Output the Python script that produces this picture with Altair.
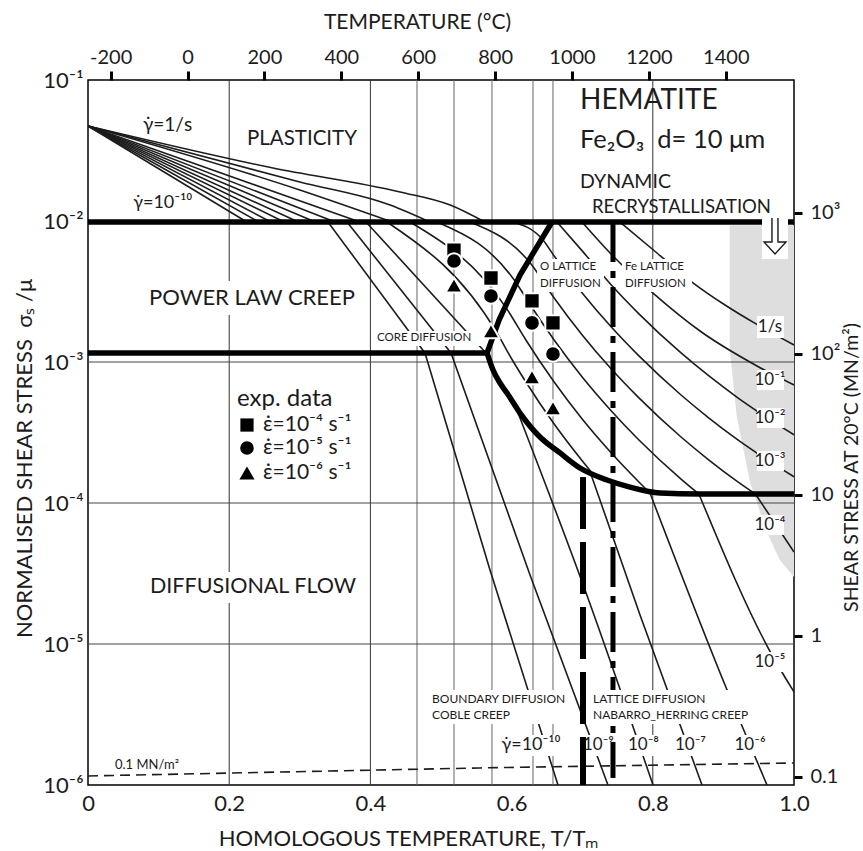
import altair as alt
import pandas as pd

FONT = "Lato"
INK = "#1c1c1c"
NB = "\u00a0"

# ---------------- values read from the map ----------------
# x = homologous temperature T/Tm ; e = log10(sigma_s / mu)

# Plasticity contours (1/s, 1e-1 ... 1e-10 s^-1), fanning from T = 0
fan_x = [
    [0, 0.262, 0.442, 0.513, 0.562],
    [0, 0.300, 0.428, 0.484],
    [0, 0.300, 0.431],
    [0, 0.385], [0, 0.350], [0, 0.322], [0, 0.298],
    [0, 0.278], [0, 0.259], [0, 0.242], [0, 0.225],
]
fan_e = [
    [-1.326, -1.624, -1.794, -1.887, -2.007],
    [-1.326, -1.723, -1.887, -2.007],
    [-1.326, -1.780, -2.007],
    [-1.326, -2.007], [-1.326, -2.007], [-1.326, -2.007], [-1.326, -2.007],
    [-1.326, -2.007], [-1.326, -2.007], [-1.326, -2.007], [-1.326, -2.007],
]

# Power-law creep contours (core diffusion + lattice diffusion fields)
plc_x = [
    [0.7535, 0.8059, 0.8555, 0.9023, 0.9462, 1.0],
    [0.6997, 0.7422, 0.8003, 0.8669, 0.9476, 1.0],
    [0.6643, 0.70, 0.74, 0.78, 0.84, 0.88, 0.92, 0.96, 1.0],
    [0.6020, 0.6445, 0.66, 0.70, 0.74, 0.78, 0.84, 0.88, 0.92, 0.96, 1.0],
    [0.5411, 0.6275, 0.66, 0.70, 0.74, 0.78, 0.84, 0.88, 0.92, 0.9454],
    [0.4943, 0.6111, 0.62, 0.66, 0.70, 0.74, 0.78, 0.84, 0.8653],
    [0.4561, 0.5949, 0.62, 0.66, 0.70, 0.74, 0.78, 0.796],
    [0.4235, 0.5793, 0.60, 0.62, 0.66, 0.70, 0.715],
    [0.3938, 0.5637],
    [0.3669, 0.5142],
    [0.3399, 0.4773],
]
plc_e = [
    [-2.007, -2.227, -2.433, -2.596, -2.730, -2.879],
    [-2.007, -2.241, -2.511, -2.780, -3.028, -3.163],
    [-2.007, -2.212, -2.447, -2.657, -2.936, -3.101, -3.252, -3.389, -3.516],
    [-2.007, -2.135, -2.246, -2.510, -2.745, -2.955, -3.234, -3.399, -3.550, -3.687, -3.814],
    [-2.007, -2.305, -2.544, -2.808, -3.043, -3.253, -3.532, -3.697, -3.848, -3.936],
    [-2.007, -2.473, -2.544, -2.842, -3.106, -3.340, -3.551, -3.830, -3.936],
    [-2.007, -2.636, -2.842, -3.140, -3.404, -3.638, -3.849, -3.929],
    [-2.007, -2.794, -2.977, -3.140, -3.438, -3.701, -3.794],
    [-2.007, -2.936],
    [-2.007, -2.936],
    [-2.007, -2.936],
]

# Diffusional flow contours (1e-4 ... 1e-10 s^-1)
dif_x = [
    [0.9454, 1.0],
    [0.8653, 0.9688, 1.0],
    [0.796, 0.9023, 0.9618],
    [0.712, 0.7819, 0.8697],
    [0.6048, 0.7040, 0.8003],
    [0.5142, 0.6261, 0.7365],
    [0.4773, 0.5694, 0.6657],
]
dif_e = [
    [-3.936, -4.348],
    [-3.936, -5.078, -5.340],
    [-3.929, -5.291, -6.0],
    [-3.790, -4.794, -6.0],
    [-3.305, -4.617, -6.0],
    [-2.936, -4.511, -6.0],
    [-2.936, -4.475, -6.0],
]

# Field boundaries
top_bound_x = [[0, 0.9547], [0.9915, 1.0]]
top_bound_e = -2.007
mid_bound_x = [0, 0.5652]
mid_bound_e = -2.936
diag_x = [0.5652, 0.5822, 0.6119, 0.6572]
diag_e = [-2.936, -2.702, -2.383, -2.007]
curve_x = [0.5652, 0.5737, 0.5836, 0.5935, 0.6119, 0.6402, 0.6686, 0.6969, 0.7351, 0.7677, 0.8102, 0.8669, 1.0]
curve_e = [-2.936, -3.057, -3.149, -3.220, -3.362, -3.532, -3.645, -3.752, -3.837, -3.887, -3.929, -3.936, -3.936]
coble_nh = {"x": 0.7011, "e": [-3.816, -6.0]}
o_fe = {"x": 0.7436, "e": [-2.007, -5.95]}

# 0.1 MN/m^2 line
mn01_x = [0, 0.5552, 1.0]
mn01_e = [-5.936, -5.879, -5.844]

# Grey field (dynamic recrystallisation)
gray_e = [-2.03, -2.915, -3.390, -3.858, -4.213, -4.404, -4.525]
gray_x = [0.909, 0.909, 0.919, 0.938, 0.962, 0.980, 1.0]

# Arrow (down) inside white box
arrow_box_x = [0.9547, 0.9915]
arrow_box_e = [-2.27, -1.97]
arrow_x = [0.9688, 0.9688, 0.9575, 0.9731, 0.9887, 0.9773, 0.9773]
arrow_e = [-1.979, -2.149, -2.149, -2.234, -2.149, -2.149, -1.979]

# White label boxes (x0, x1, e0, e1)
box_x0 = [0.0822, 0.0850, 0.4065, 0.6360, 0.7564, 0.4830, 0.7110,
          0.9476, 0.9476, 0.9476, 0.9476, 0.9476, 0.9476,
          0.5836, 0.7068, 0.7677, 0.8343, 0.9164]
box_x1 = [0.3824, 0.3824, 0.5581, 0.7309, 0.8555, 0.6841, 0.9547,
          0.9858, 0.9858, 0.9858, 0.9858, 0.9858, 0.9858,
          0.6714, 0.7394, 0.8059, 0.8725, 0.9589]
box_e0 = [-2.426, -4.489, -2.780, -2.270, -2.270, -5.326, -5.326,
          -2.674, -3.057, -3.326, -3.631, -4.085, -5.057,
          -5.645, -5.645, -5.645, -5.645, -5.645]
box_e1 = [-2.667, -4.709, -2.887, -2.504, -2.504, -5.567, -5.567,
          -2.830, -3.199, -3.468, -3.773, -4.227, -5.199,
          -5.794, -5.794, -5.794, -5.794, -5.794]

# Grid
grid_main_x = [0.2, 0.4, 0.8]
grid_exp_x = [0.4660, 0.5184, 0.5722, 0.6303, 0.6586]
grid_e = [-3, -4, -5]

# Experimental data
exp_x = [0.5184, 0.5708, 0.6289, 0.6586]
sq_e = [-2.206, -2.404, -2.567, -2.723]
ci_e = [-2.284, -2.532, -2.723, -2.943]
tr_e = [-2.454, -2.780, -3.106, -3.326]

# Legend symbols
leg_x = 0.2252
leg_e = [-3.447, -3.610, -3.787]

# Axes
x_ticks = [0, 0.2, 0.4, 0.6, 0.8, 1.0]
y_ticks = [1e-6, 1e-5, 1e-4, 1e-3, 1e-2, 1e-1]
t_ticks = [-200, 0, 200, 400, 600, 800, 1000, 1200, 1400]
t_at_frame = [-258.8, 1577.4]
mn_ticks = [0.1, 1, 10, 100, 1000]
mn_at_frame = [0.0877, 8770]

G = "\u03b3\u0307"
E = "\u03b5\u0307"
M = "\u207b"
# Labels: text, x, e, size
center_labels = [
    ("PLASTICITY", 0.3031, -1.418, 20.5),
    ("POWER LAW CREEP", 0.2323, -2.546, 22),
    ("DIFFUSIONAL FLOW", 0.2337, -4.596, 21.5),
    ("1/s", 0.966, -2.752, 17),
    ("10" + M + "\u00b9", 0.966, -3.128, 17),
    ("10" + M + "\u00b2", 0.966, -3.397, 17),
    ("10" + M + "\u00b3", 0.966, -3.702, 17),
    ("10" + M + "\u2074", 0.966, -4.156, 17),
    ("10" + M + "\u2075", 0.966, -5.128, 17),
    (G + "=10" + M + "\u00b9\u2070", 0.6275, -5.716, 18),
    ("10" + M + "\u2079", 0.7230, -5.716, 17),
    ("10" + M + "\u2078", 0.7868, -5.716, 17),
    ("10" + M + "\u2077", 0.8534, -5.716, 17),
    ("10" + M + "\u2076", 0.9377, -5.716, 17),
]
left_labels = [
    ("HEMATITE", 0.6969, -1.149, 28),
    ("Fe\u2082O\u2083" + NB + NB + "d=" + NB + "10" + NB + "\u03bcm", 0.6969, -1.426, 25.5),
    ("DYNAMIC", 0.6969, -1.723, 19.5),
    ("RECRYSTALLISATION", 0.7139, -1.901, 18.5),
    ("O LATTICE", 0.6402, -2.326, 11.5),
    ("DIFFUSION", 0.6402, -2.447, 11.5),
    ("Fe LATTICE", 0.7606, -2.326, 11.5),
    ("DIFFUSION", 0.7606, -2.447, 11.5),
    ("CORE DIFFUSION", 0.4093, -2.830, 11.5),
    ("BOUNDARY DIFFUSION", 0.4873, -5.390, 12),
    ("COBLE CREEP", 0.4873, -5.504, 12),
    ("LATTICE DIFFUSION", 0.7153, -5.390, 12),
    ("NABARRO_HERRING CREEP", 0.7153, -5.504, 12),
    (G + "=1/s", 0.0779, -1.319, 19),
    (G + "=10" + M + "\u00b9\u2070", 0.0640, -1.870, 18),
    ("0.1 MN/m\u00b2", 0.0382, -5.858, 13),
    ("exp. data", 0.2110, -3.262, 24),
    (E + "=10" + M + "\u2074 s" + M + "\u00b9", 0.2479, -3.447, 21),
    (E + "=10" + M + "\u2075 s" + M + "\u00b9", 0.2479, -3.610, 21),
    (E + "=10" + M + "\u2076 s" + M + "\u00b9", 0.2479, -3.787, 21),
]

# ---------------- build tables ----------------
def seg_df(xs_list, es_list, prefix):
    rows = []
    for k, (xs, es) in enumerate(zip(xs_list, es_list)):
        for i, (x, e) in enumerate(zip(xs, es)):
            rows.append({"seg": f"{prefix}{k}", "i": i, "x": x, "y": 10 ** e})
    return pd.DataFrame(rows)


def XS():
    return alt.Scale(domain=[0, 1], nice=False, zero=False)


def YS():
    return alt.Scale(type="log", domain=[1e-6, 1e-1], nice=False)


def X(f="x"):
    return alt.X(f"{f}:Q", scale=XS(), axis=None)


def Y(f="y"):
    return alt.Y(f"{f}:Q", scale=YS(), axis=None)


layers = []

# axis carrier: bottom + left
left_expr = ("datum.value >= 0.09 ? '10\u207b\u00b9' : datum.value >= 0.009 ? '10\u207b\u00b2' : "
             "datum.value >= 0.0009 ? '10\u207b\u00b3' : datum.value >= 0.00009 ? '10\u207b\u2074' : "
             "datum.value >= 0.000009 ? '10\u207b\u2075' : '10\u207b\u2076'")
axis_layer = alt.Chart(pd.DataFrame({"x": [0.5], "y": [1e-3]})).mark_point(opacity=0).encode(
    x=alt.X("x:Q", scale=XS(), axis=alt.Axis(
        orient="bottom", values=x_ticks,
        labelExpr="datum.value == 0 ? '0' : format(datum.value, '.1f')",
        ticks=False, domain=False, grid=False, labelFontSize=22, labelPadding=8, labelFlush=False,
        title="HOMOLOGOUS TEMPERATURE, T/T\u2098", titleFontSize=22,
        titleX=320, titleY=53, titleBaseline="middle", titleAlign="center")),
    y=alt.Y("y:Q", scale=YS(), axis=alt.Axis(
        orient="left", values=y_ticks, labelExpr=left_expr, ticks=False, domain=False, grid=False,
        labelFontSize=22, labelPadding=5, labelFlush=False,
        title="NORMALISED SHEAR STRESS" + NB + NB + "\u03c3\u209b" + NB + "/\u03bc", titleFontSize=22,
        titleX=-64, titleY=378, titleBaseline="middle", titleAlign="center", titleAngle=270)),
)
layers.append(axis_layer)

# axis carrier: top + right
right_expr = ("datum.value >= 900 ? '10\u00b3' : datum.value >= 90 ? '10\u00b2' : "
              "datum.value >= 9 ? '10' : datum.value >= 0.9 ? '1' : '0.1'")
axis2 = alt.Chart(pd.DataFrame({"T": [500.0], "MN": [10.0]})).mark_point(opacity=0).encode(
    x=alt.X("T:Q", scale=alt.Scale(domain=t_at_frame, nice=False, zero=False), axis=alt.Axis(
        orient="top", values=t_ticks, labelExpr="datum.value < 0 ? '-' + (-datum.value) : '' + datum.value",
        tickSize=9, tickWidth=3, tickColor="black", domain=False, grid=False, labelFontSize=20,
        labelPadding=4, labelFlush=False, title="TEMPERATURE (\u00b0C)", titleFontSize=21,
        titleX=329, titleY=-58, titleBaseline="middle", titleAlign="center")),
    y=alt.Y("MN:Q", scale=alt.Scale(type="log", domain=mn_at_frame, nice=False), axis=alt.Axis(
        orient="right", values=mn_ticks, labelExpr=right_expr, tickSize=8, tickWidth=3, tickColor="black",
        domain=False, grid=False, labelFontSize=20, labelPadding=8, labelFlush=False,
        title="SHEAR STRESS AT 20\u00b0C (MN/m\u00b2)", titleAngle=270, titleFontSize=19.5,
        titleX=57, titleY=387, titleBaseline="middle", titleAlign="center")),
)
layers.append(axis2)

# grey field
gdf = pd.DataFrame({"y": [10 ** e for e in gray_e], "x": gray_x, "x2": [1.0] * len(gray_x)})
layers.append(alt.Chart(gdf).mark_area(orient="horizontal", color="#dedede").encode(
    y=Y(), x=X(), x2="x2:Q"))

# grid
layers.append(alt.Chart(pd.DataFrame({"x": grid_main_x})).mark_rule(color="#333", strokeWidth=1).encode(x=X()))
layers.append(alt.Chart(pd.DataFrame({"x": grid_exp_x})).mark_rule(color="#666", strokeWidth=1).encode(x=X()))
layers.append(alt.Chart(pd.DataFrame({"y": [10 ** e for e in grid_e]})).mark_rule(color="#444", strokeWidth=1).encode(y=Y()))

# contours
cont = pd.concat([seg_df(fan_x, fan_e, "f"), seg_df(plc_x, plc_e, "p"), seg_df(dif_x, dif_e, "d")])
layers.append(alt.Chart(cont).mark_line(color=INK, strokeWidth=1.6, interpolate="monotone", clip=True).encode(
    x=X(), y=Y(), detail="seg:N", order="i:Q"))

# 0.1 MN/m2 dashed
layers.append(alt.Chart(seg_df([mn01_x], [mn01_e], "m")).mark_line(
    color=INK, strokeWidth=1.6, strokeDash=[10, 6], clip=True).encode(x=X(), y=Y(), order="i:Q"))

# thick boundaries
straight = seg_df([top_bound_x[0], top_bound_x[1], mid_bound_x, diag_x],
                  [[top_bound_e] * 2, [top_bound_e] * 2, [mid_bound_e] * 2, diag_e], "b")
layers.append(alt.Chart(straight).mark_line(color="black", strokeWidth=5.5, clip=True).encode(
    x=X(), y=Y(), detail="seg:N", order="i:Q"))
layers.append(alt.Chart(seg_df([curve_x], [curve_e], "c")).mark_line(
    color="black", strokeWidth=5.5, interpolate="monotone", clip=True).encode(x=X(), y=Y(), order="i:Q"))

# vertical mechanism boundaries
layers.append(alt.Chart(pd.DataFrame({"x": [coble_nh["x"]], "y": [10 ** coble_nh["e"][0]], "y2": [10 ** coble_nh["e"][1]]}))
              .mark_rule(color="black", strokeWidth=6, strokeDash=[52, 13]).encode(x=X(), y=Y(), y2="y2:Q"))
layers.append(alt.Chart(pd.DataFrame({"x": [o_fe["x"]], "y": [10 ** o_fe["e"][0]], "y2": [10 ** o_fe["e"][1]]}))
              .mark_rule(color="black", strokeWidth=5, strokeDash=[40, 9, 7, 9]).encode(x=X(), y=Y(), y2="y2:Q"))

# white label boxes, arrow box and arrow
bdf = pd.DataFrame({"x": box_x0 + [arrow_box_x[0]], "x2": box_x1 + [arrow_box_x[1]],
                    "y": [10 ** e for e in box_e0 + [arrow_box_e[0]]],
                    "y2": [10 ** e for e in box_e1 + [arrow_box_e[1]]]})
layers.append(alt.Chart(bdf).mark_rect(color="white").encode(x=X(), x2="x2:Q", y=Y(), y2="y2:Q"))
layers.append(alt.Chart(seg_df([arrow_x], [arrow_e], "a")).mark_line(color=INK, strokeWidth=1.4).encode(
    x=X(), y=Y(), order="i:Q"))

# experimental points and legend symbols
def pts(xs, es):
    return pd.DataFrame({"x": xs, "y": [10 ** e for e in es]})

for shape, es, size in [("square", sq_e, 175), ("circle", ci_e, 185), ("triangle-up", tr_e, 230)]:
    layers.append(alt.Chart(pts(exp_x, es)).mark_point(shape=shape, filled=True, fill="black", stroke="white",
                                                       strokeWidth=2, size=size + 60, opacity=1).encode(x=X(), y=Y()))
for shape, e, size in [("square", leg_e[0], 175), ("circle", leg_e[1], 185), ("triangle-up", leg_e[2], 230)]:
    layers.append(alt.Chart(pts([leg_x], [e])).mark_point(shape=shape, filled=True, fill="black",
                                                          size=size, opacity=1).encode(x=X(), y=Y()))

# texts
def text_layer(rows, align):
    df = pd.DataFrame({"t": [r[0] for r in rows], "x": [r[1] for r in rows],
                       "y": [10 ** r[2] for r in rows], "fs": [r[3] for r in rows]})
    return alt.Chart(df).mark_text(align=align, baseline="middle", font=FONT, color=INK).encode(
        x=X(), y=Y(), text="t:N", size=alt.Size("fs:Q", scale=None, legend=None))

layers.append(text_layer(center_labels, "center"))
layers.append(text_layer(left_labels, "left"))

chart = alt.layer(*layers).resolve_scale(x="independent", y="independent").properties(
    width=706, height=705,
    autosize=alt.AutoSizeParams(type="none"),
    padding={"left": 88, "top": 80, "right": 69, "bottom": 66},
    background="white",
).configure_view(stroke="black", strokeWidth=1.5).configure_axis(
    labelFont=FONT, titleFont=FONT, labelColor=INK, titleColor=INK, titleFontWeight="normal")

chart.save("out.html", embed_options={"renderer": "svg", "actions": False})
